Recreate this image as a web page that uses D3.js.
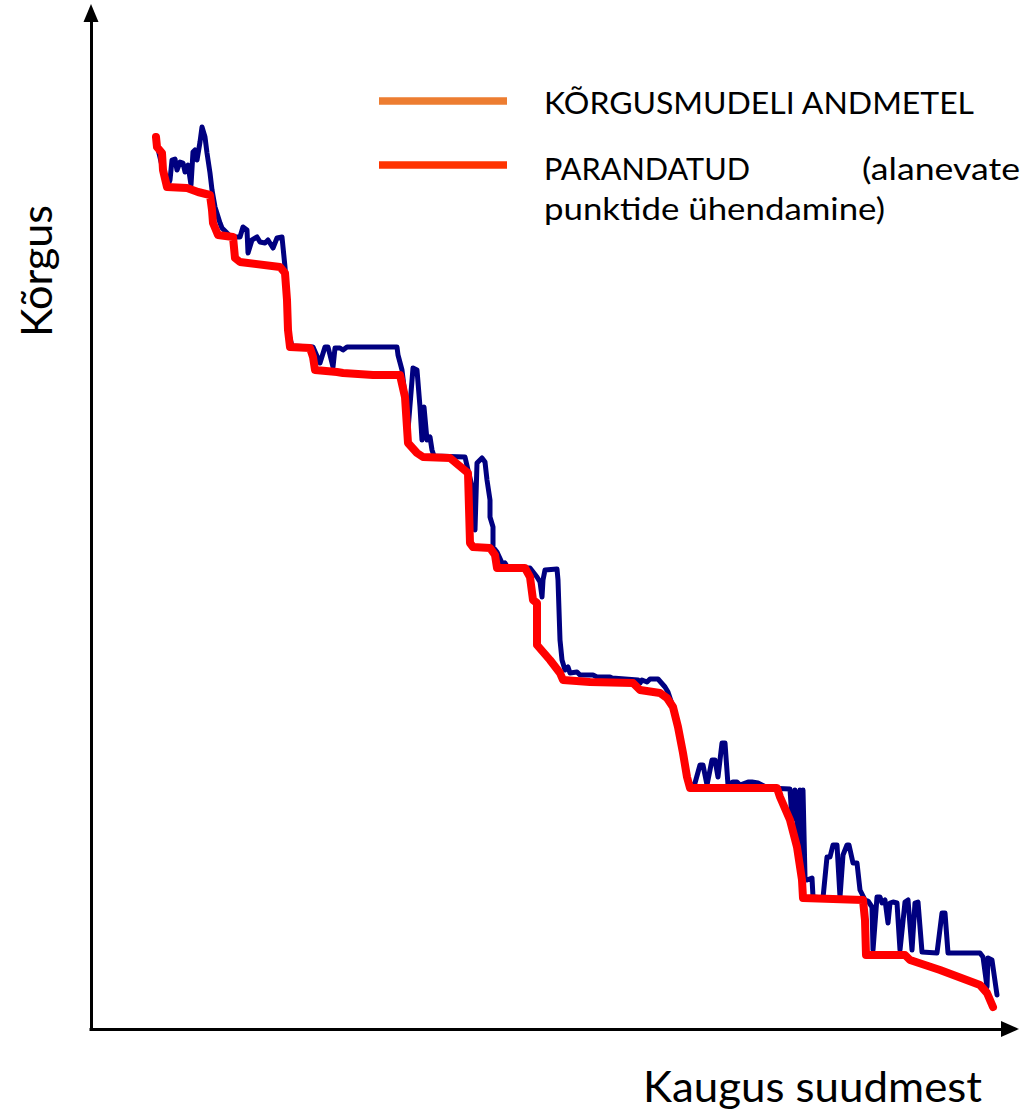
<!DOCTYPE html>
<html>
<head>
<meta charset="utf-8">
<script src="https://cdn.jsdelivr.net/npm/d3@7/dist/d3.min.js"></script>
<style>
  html, body { margin: 0; padding: 0; background: #fff; }
  svg { display: block; }
  text { font-family: Lato, "Open Sans", "Noto Sans", sans-serif; fill: #000; }
</style>
</head>
<body>
<svg id="chart" width="1025" height="1114"></svg>
<script>
// ---- Data (distance from mouth, elevation) ----
// Corrected profile (joining descending points)
const correctedDist = [65,66,71,72,76,96,107,119,121,122,127,142,144,149,189,194,196,197,199,219,222,224,246,252,282,309,314,317,326,332,359,377,379,382,399,404,406,434,439,442,446,446,459,469,472,499,542,549,569,576,582,587,592,596,599,686,689,699,706,711,712,772,774,775,814,819,849,889,896,902];
const correctedElev = [892,882,876,859,842,841,837,834,819,806,794,792,771,767,762,756,729,699,682,681,672,659,657,656,654,654,632,586,576,572,571,556,486,482,481,474,461,461,452,429,426,384,369,356,349,347,346,339,336,331,322,302,276,252,241,241,232,209,182,149,131,129,109,74,74,69,59,44,36,22];

// Elevation model data (DEM), split into stretches for readability
const demDist1 = [66,72,77,79,81,84,86,89,92,94,97,100,102,104,106,109,111,114,116,119,121,124,129,131,139,145,149,152,156,157,161,166,169,174,177,182,186,191,194,196,198,201];
const demElev1 = [884,859,844,849,869,870,859,867,866,857,864,844,877,879,869,887,902,892,876,856,839,822,806,801,793,792,792,802,799,776,789,792,787,786,789,781,791,792,762,729,694,683];
const demDist2 = [222,229,234,237,242,244,249,252,256,306,307,311,314,317,322,326,329,331,333,336,339,341,343,374,377,382,384,386,391,394,396,399,399,402,402,406,412,414,417];
const demElev2 = [682,666,682,682,662,681,681,679,682,682,674,659,634,599,661,659,622,589,622,589,592,579,573,572,559,539,499,566,571,567,549,529,512,502,482,477,464,466,461];
const demDist3 = [439,446,449,451,452,454,466,467,469,471,474,477,479,486,489,502,506,519,521,547,549,551,556,559,567,574,577,582,587,592,596,599];
const demElev3 = [461,452,447,432,449,459,460,449,389,369,359,362,356,357,354,354,352,352,351,349,346,349,347,350,350,342,337,322,302,276,252,241];
const demDist4 = [604,609,612,616,621,624,627,631,634,637,642,646,649,657,661,667,677,699,701,704,707,709,711,712,714,716,721,722,732,736,739,742,746,749,752,756,758,762,766,769];
const demElev4 = [246,264,264,244,269,269,252,286,286,244,247,247,244,247,247,246,241,240,209,239,189,239,159,239,152,149,151,132,131,172,172,184,184,132,174,184,184,166,166,139];
const demDist5 = [774,777,781,782,786,789,791,794,797,799,802,806,809,814,817,821,824,827,831,846,851,854,857,889,892,896,897,901,906];
const demElev5 = [129,128,122,79,132,132,126,129,106,126,127,126,79,127,129,79,126,127,77,76,116,116,76,76,72,42,71,69,34];

// Legend / titles
const seriesNames = ["KÕRGUSMUDELI ANDMETEL", "PARANDATUD"];
const seriesNameExtra = ["(alanevate", "punktide ühendamine)"];
const xTitle = "Kaugus suudmest";
const yTitle = "Kõrgus";

// ---- Drawing ----
const svg = d3.select("#chart");
const x = d3.scaleLinear().domain([0, 927]).range([91, 1018]);
const y = d3.scaleLinear().domain([0, 1024]).range([1029, 5]);

const line = d3.line().x(d => x(d[0])).y(d => y(d[1]));
const demDist = [].concat(demDist1, demDist2, demDist3, demDist4, demDist5);
const demElev = [].concat(demElev1, demElev2, demElev3, demElev4, demElev5);
const dem = demDist.map((d, i) => [d, demElev[i]]);
const corr = correctedDist.map((d, i) => [d, correctedElev[i]]);

svg.append("path").datum(dem)
  .attr("d", line).attr("fill", "none")
  .attr("stroke", "#000080").attr("stroke-width", 5)
  .attr("stroke-linejoin", "round").attr("stroke-linecap", "round");

svg.append("path").datum(corr)
  .attr("d", line).attr("fill", "none")
  .attr("stroke", "#ff0000").attr("stroke-width", 8)
  .attr("stroke-linejoin", "round").attr("stroke-linecap", "round");

// Axes (no ticks) with arrow heads
const yAxisScale = d3.scaleLinear().domain([0, 1]).range([1029, 20]);
const xAxisScale = d3.scaleLinear().domain([0, 1]).range([89, 1003]);
const gy = svg.append("g").attr("transform", "translate(91,0)")
  .call(d3.axisLeft(yAxisScale).tickValues([]).tickSizeOuter(0));
const gx = svg.append("g").attr("transform", "translate(0,1029)")
  .call(d3.axisBottom(xAxisScale).tickValues([]).tickSizeOuter(0));
[gy, gx].forEach(g => g.select(".domain").attr("stroke", "#000").attr("stroke-width", 3));

svg.append("path").attr("d", "M91,4 L83.5,22 L98.5,22 Z").attr("fill", "#000");
svg.append("path").attr("d", "M1019,1029 L1001,1021 L1001,1037 Z").attr("fill", "#000");

// Axis titles
svg.append("text").attr("x", 643).attr("y", 1102)
  .attr("font-size", 42).attr("textLength", 339).attr("lengthAdjust", "spacingAndGlyphs")
  .text(xTitle);
svg.append("text").attr("transform", "translate(52,337) rotate(-90)")
  .attr("font-size", 42).attr("textLength", 132).attr("lengthAdjust", "spacingAndGlyphs")
  .text(yTitle);

// Legend
const legendColors = ["#ED7D31", "#FF3300"];
const legendY = [101, 165];
legendColors.forEach((c, i) => {
  svg.append("line").attr("x1", 379).attr("x2", 507)
    .attr("y1", legendY[i]).attr("y2", legendY[i])
    .attr("stroke", c).attr("stroke-width", 7.5);
});
svg.append("text").attr("x", 544).attr("y", 114).attr("font-size", 31)
  .attr("textLength", 430).attr("lengthAdjust", "spacingAndGlyphs").text(seriesNames[0]);
svg.append("text").attr("x", 544).attr("y", 180).attr("font-size", 31)
  .attr("textLength", 206).attr("lengthAdjust", "spacingAndGlyphs").text(seriesNames[1]);
svg.append("text").attr("x", 862).attr("y", 180).attr("font-size", 31)
  .attr("textLength", 158).attr("lengthAdjust", "spacingAndGlyphs").text(seriesNameExtra[0]);
svg.append("text").attr("x", 544).attr("y", 220).attr("font-size", 31)
  .attr("textLength", 341).attr("lengthAdjust", "spacingAndGlyphs").text(seriesNameExtra[1]);
</script>
</body>
</html>
